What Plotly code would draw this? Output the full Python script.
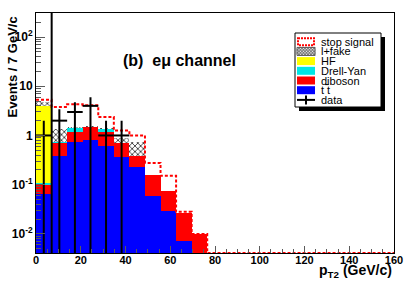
import plotly.graph_objects as go

# ---------------- data ----------------
n_bins = 23
x_min, x_max = 0.0, 160.0
bin_w = (x_max - x_min) / n_bins
edges = [x_min + i * bin_w for i in range(n_bins + 1)]
centers = [x_min + (i + 0.5) * bin_w for i in range(n_bins)]

ttbar    = [0.066, 0.39, 0.72, 0.79, 0.60, 0.37, 0.225, 0.060, 0.0295, 0.0070, 0.0] + [0.0] * 12
diboson  = [0.034, 0.30, 0.48, 0.67, 0.60, 0.32, 0.165, 0.100, 0.0455, 0.0200, 0.0099] + [0.0] * 12
drellyan = [0.010, 0.06, 0.19, 0.00, 0.13, 0.01, 0.0, 0.0, 0.0, 0.0, 0.0] + [0.0] * 12
hf       = [3.89, 0.0, 0.0, 0.0, 0.0, 0.0, 0.0, 0.0, 0.0, 0.0, 0.0] + [0.0] * 12
lfake    = [0.80, 0.58, 0.11, 0.07, 0.09, 0.17, 0.36, 0.0, 0.0, 0.0, 0.0] + [0.0] * 12
signal   = [0.50, 2.47, 2.80, 2.57, 0.94, 0.39, 0.25, 0.117, 0.077, 0.001, 0.0] + [0.0] * 12

data_counts = [1, 2, 3, 4, 1, 1] + [0] * 17
data_err    = [1.0, 1.41, 1.73, 2.0, 1.0, 1.0] + [0.0] * 17

cut_x = 7.0
y_log_range = [-2.39, 2.49]
y_tickvals = [0.01, 0.1, 1, 10, 100]
y_ticktext = ["<b>10<sup>-2</sup></b>", "<b>10<sup>-1</sup></b>", "<b>1</b>", "<b>10</b>",
              "<b>10<sup>2</sup></b>"]
x_tickvals = [0, 20, 40, 60, 80, 100, 120, 140, 160]
x_ticktext = ["<b>%d</b>" % v for v in x_tickvals]

legend_labels = ["stop signal", "l+fake", "HF", "Drell-Yan", "diboson", "t t", "data"]

# ---------------- styling ----------------
C_TT = "rgb(0,0,255)"
C_DB = "rgb(255,0,0)"
C_DY = "rgb(0,230,230)"
C_HF = "rgb(255,255,0)"
FONT = "Liberation Sans, Arial, sans-serif"

W, H = 415, 282
L, R, T, B = 36, 394, 13, 253


def fx(px):
    return (px - L) / (R - L)


def fy(py):
    return (B - py) / (B - T)


fig = go.Figure()

stack = [
    ("ttbar", ttbar, dict(color=C_TT)),
    ("diboson", diboson, dict(color=C_DB)),
    ("Drell-Yan", drellyan, dict(color=C_DY)),
    ("HF", hf, dict(color=C_HF)),
    ("l+fake", lfake, dict(color="white",
                           pattern=dict(shape="x", fgcolor="rgb(60,60,60)",
                                        bgcolor="white", size=4, solidity=0.4))),
]
for name, vals, mk in stack:
    mk = dict(mk)
    mk["line"] = dict(width=0)
    fig.add_trace(go.Bar(x=centers, y=vals, width=bin_w, name=name,
                         marker=mk, showlegend=False, hoverinfo="skip"))

# stop signal stacked on top of total background: dashed outline
total = [a + b + c + d + e for a, b, c, d, e in zip(ttbar, diboson, drellyan, hf, lfake)]
floor = 10 ** y_log_range[0]
top = [max(t + s, floor) for t, s in zip(total, signal)]
fig.add_trace(go.Scatter(x=edges, y=top + [top[-1]], mode="lines", line_shape="hv",
                         line=dict(color="rgb(255,0,0)", width=2, dash="3px,2px"),
                         showlegend=False, hoverinfo="skip"))

# data with error bars
dx = [c for c, n in zip(centers, data_counts) if n > 0]
dy = [n for n in data_counts if n > 0]
de = [e for e, n in zip(data_err, data_counts) if n > 0]
fig.add_trace(go.Scatter(
    x=dx, y=dy, mode="markers", marker=dict(size=1, color="black"),
    error_x=dict(type="constant", value=bin_w / 2, color="black", thickness=2, width=0),
    error_y=dict(type="data", array=de, arrayminus=dy, symmetric=False,
                 color="black", thickness=2, width=0),
    showlegend=False, hoverinfo="skip"))

shapes = []
annotations = []

# vertical line
shapes.append(dict(type="line", xref="x", yref="paper", x0=cut_x, x1=cut_x, y0=0, y1=1,
                   line=dict(color="black", width=2), layer="above"))

# ---- manual legend ----
bx0, bx1, by0, by1 = 295, 381, 33, 107
shapes.append(dict(type="rect", xref="paper", yref="paper",
                   x0=fx(bx0 + 4), x1=fx(bx1 + 4), y0=fy(by0 + 4), y1=fy(by1 + 4),
                   fillcolor="black", line=dict(width=0), layer="above"))
shapes.append(dict(type="rect", xref="paper", yref="paper",
                   x0=fx(bx0), x1=fx(bx1), y0=fy(by0), y1=fy(by1),
                   fillcolor="white", line=dict(color="black", width=1), layer="above"))
row0, row_step = 41.7, 9.7
sw0, sw1 = 297, 315
swatch_fill = ["white", None, C_HF, C_DY, C_DB, C_TT, None]
for i, lab in enumerate(legend_labels):
    yc = row0 + i * row_step
    if i == 0:
        shapes.append(dict(type="rect", xref="paper", yref="paper",
                           x0=fx(sw0 + 1), x1=fx(sw1 - 1), y0=fy(yc - 3.5), y1=fy(yc + 3.5),
                           fillcolor="white", line=dict(color="red", width=2, dash="2px,1px"),
                           layer="above"))
    elif i == 1:
        shapes.append(dict(type="rect", xref="paper", yref="paper",
                           x0=fx(sw0), x1=fx(sw1), y0=fy(yc - 4), y1=fy(yc + 4),
                           fillcolor="rgb(225,225,225)", line=dict(color="rgb(90,90,90)", width=1),
                           layer="above"))
        path = ""
        for k in range(0, 26, 3):
            xa = sw0 + k - 8
            xs, xe = max(xa, sw0), min(xa + 8, sw1)
            if xe <= xs:
                continue
            y_s = yc + 4 - (xs - xa)
            y_e = yc + 4 - (xe - xa)
            path += "M {:.4f} {:.4f} L {:.4f} {:.4f} ".format(fx(xs), fy(y_s), fx(xe), fy(y_e))
            y_s2 = yc - 4 + (xs - xa)
            y_e2 = yc - 4 + (xe - xa)
            path += "M {:.4f} {:.4f} L {:.4f} {:.4f} ".format(fx(xs), fy(y_s2), fx(xe), fy(y_e2))
        shapes.append(dict(type="path", xref="paper", yref="paper", path=path,
                           line=dict(color="rgb(80,80,80)", width=0.8), layer="above"))
    elif i == 6:
        xm = (sw0 + sw1) / 2
        shapes.append(dict(type="line", xref="paper", yref="paper",
                           x0=fx(sw0), x1=fx(sw1), y0=fy(yc), y1=fy(yc),
                           line=dict(color="black", width=2), layer="above"))
        shapes.append(dict(type="line", xref="paper", yref="paper",
                           x0=fx(xm), x1=fx(xm), y0=fy(yc - 4.5), y1=fy(yc + 4.5),
                           line=dict(color="black", width=2), layer="above"))
    else:
        shapes.append(dict(type="rect", xref="paper", yref="paper",
                           x0=fx(sw0), x1=fx(sw1), y0=fy(yc - 4), y1=fy(yc + 4),
                           fillcolor=swatch_fill[i], line=dict(width=0), layer="above"))
        if i == 5:
            # bar over the second "t" (t t-bar)
            shapes.append(dict(type="line", xref="paper", yref="paper",
                               x0=fx(325.2), x1=fx(328.6), y0=fy(yc - 5.6), y1=fy(yc - 5.6),
                               line=dict(color="black", width=1), layer="above"))
    annotations.append(dict(xref="paper", yref="paper", x=fx(319), y=fy(yc),
                            xanchor="left", yanchor="middle", showarrow=False, text=lab,
                            font=dict(family=FONT, size=11, color="black")))

# title, axis titles
annotations.append(dict(xref="paper", yref="paper", x=fx(121), y=fy(61), xanchor="left",
                        yanchor="middle", showarrow=False, text="<b>(b)  e\u03bc channel</b>",
                        font=dict(family=FONT, size=16, color="black")))
annotations.append(dict(xref="paper", yref="paper", x=1.0, y=fy(271), xanchor="right",
                        yanchor="middle", showarrow=False,
                        text="<b>p<sub>T2</sub> (GeV/c)</b>",
                        font=dict(family=FONT, size=14, color="black")))
annotations.append(dict(xref="paper", yref="paper", x=fx(12), y=fy(15), xanchor="center",
                        yanchor="top", showarrow=False, textangle=-90,
                        text="<b>Events / 7 GeV/c</b>",
                        font=dict(family=FONT, size=13, color="black")))

fig.update_layout(
    template="none",
    width=W, height=H,
    margin=dict(l=L, r=W - R, t=T, b=H - B, autoexpand=False),
    paper_bgcolor="white", plot_bgcolor="white",
    barmode="stack", bargap=0,
    showlegend=False,
    shapes=shapes, annotations=annotations,
    xaxis=dict(range=[x_min, x_max], tickvals=x_tickvals, ticktext=x_ticktext,
               ticks="inside", ticklen=7, automargin=False, ticklabelstandoff=-3,
               tickcolor="rgb(90,90,90)", showline=True, linecolor="black", linewidth=1,
               mirror=True, showgrid=False, zeroline=False,
               tickfont=dict(family=FONT, size=11, color="black"),
               minor=dict(dtick=5, ticks="inside", ticklen=4, tickcolor="rgb(90,90,90)",
                          showgrid=False)),
    yaxis=dict(type="log", range=y_log_range, tickvals=y_tickvals, ticktext=y_ticktext,
               automargin=False,
               ticks="inside", ticklen=9, tickcolor="rgb(90,90,90)", showline=True,
               linecolor="black", linewidth=1, mirror=True, showgrid=False, zeroline=False,
               tickfont=dict(family=FONT, size=12, color="black"),
               minor=dict(dtick="D1", ticks="inside", ticklen=5, tickcolor="rgb(90,90,90)",
                          showgrid=False)),
)

fig.write_html("out.html", config={"displayModeBar": False, "staticPlot": True},
               post_script="document.body.style.margin='0';document.body.style.overflow='hidden';")
